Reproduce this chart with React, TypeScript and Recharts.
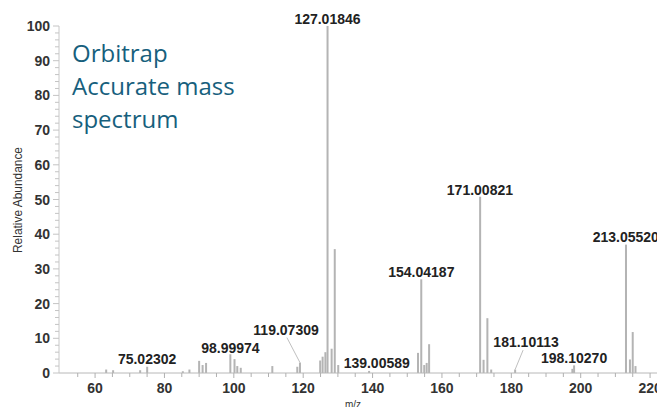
import React from 'react';
import { ComposedChart, Bar, Scatter, XAxis, YAxis, ReferenceLine, Label } from 'recharts';

// spectrum peaks
const peakMz = [
  63.2, 65.2, 73.0, 75.02, 85.3, 87.2,
  90.0, 91.0, 92.0,
  99.0, 100.2, 101.0, 102.0,
  111.1, 118.3, 119.07,
  124.9, 125.6, 126.4, 127.02, 128.2, 129.1, 130.1,
  139.0,
  153.1, 154.04, 154.9, 155.6, 156.3,
  171.01, 172.0, 173.1, 174.2,
  181.1, 197.6, 198.1,
  213.06, 214.2, 215.0, 215.8,
];
const peakAbundance = [
  1.0, 0.8, 0.8, 1.8, 0.5, 1.0,
  3.5, 2.3, 2.9,
  5.4, 4.0, 2.0, 1.5,
  2.0, 1.8, 3.0,
  3.6, 4.7, 6.0, 100, 7.0, 35.7, 2.3,
  0.6,
  5.8, 27, 2.3, 2.9, 8.3,
  50.8, 3.8, 15.8, 1.0,
  1.0, 1.2, 2.2,
  37, 3.9, 11.8, 2.0,
];

// peak annotations: text and where it sits (m/z, abundance)
const labelText = ['75.02302', '98.99974', '119.07309', '127.01846', '139.00589', '154.04187', '171.00821', '181.10113', '198.10270', '213.05520'];
const labelAtMz = [75.0, 99.03, 115.06, 127.0, 141.2, 154.06, 170.95, 184.25, 198.1, 213.0];
const labelAtAbundance = [2.0, 5.3, 10.4, 100, 0.9, 27.1, 50.7, 6.9, 2.3, 37.2];

// leader lines from offset labels to their peaks
const leaderFrom = [{ x: 115.3, y: 10.2 }, { x: 183.4, y: 6.6 }];
const leaderTo = [{ x: 119.07, y: 3.0 }, { x: 181.1, y: 1.0 }];

const xTicks = [55, 60, 65, 70, 75, 80, 85, 90, 95, 100, 105, 110, 115, 120, 125, 130, 135, 140, 145, 150, 155, 160, 165, 170, 175, 180, 185, 190, 195, 200, 205, 210, 215, 220];
const xLabels = [60, 80, 100, 120, 140, 160, 180, 200, 220];
const yTicks = [0, 2, 4, 6, 8, 10, 12, 14, 16, 18, 20, 22, 24, 26, 28, 30, 32, 34, 36, 38, 40, 42, 44, 46, 48, 50, 52, 54, 56, 58, 60, 62, 64, 66, 68, 70, 72, 74, 76, 78, 80, 82, 84, 86, 88, 90, 92, 94, 96, 98, 100];
const yLabels = [0, 10, 20, 30, 40, 50, 60, 70, 80, 90, 100];

const peaks = peakMz.map((mz, i) => ({ mz, abundance: peakAbundance[i] }));
const labels = labelText.map((text, i) => ({ mz: labelAtMz[i], abundance: labelAtAbundance[i], text }));

const FONT = '"Liberation Sans", Arial, sans-serif';

function XTick(props: any) {
  const { x, y, payload } = props;
  const major = xLabels.includes(payload.value);
  return (
    <g>
      <line x1={x} x2={x} y1={y} y2={y + (major ? 5 : 4)} stroke="#b0b0b0" />
      {major && (
        <text x={x} y={y + 20} textAnchor="middle" fontFamily={FONT} fontSize={14} fontWeight="bold" fill="#333">
          {payload.value}
        </text>
      )}
    </g>
  );
}

function YTick(props: any) {
  const { x, y, payload } = props;
  const major = yLabels.includes(payload.value);
  return (
    <g>
      <line x1={x} x2={x - (major ? 6 : 4)} y1={y} y2={y} stroke="#c4c4c4" />
      {major && (
        <text x={x - 9} y={y + 5} textAnchor="end" fontFamily={FONT} fontSize={14} fontWeight="bold" fill="#333">
          {payload.value}
        </text>
      )}
    </g>
  );
}

// draw each peak as a 2px stick centred on its m/z
function Stick(props: any) {
  const { x, y, width, height } = props;
  if (height == null || height <= 0) return null;
  const cx = x + width / 2;
  return <rect x={cx - 1} y={y} width={2} height={height} fill="#b4b4b4" />;
}

function PeakLabel(props: any) {
  const { cx, cy, payload } = props;
  return (
    <text x={cx} y={cy - 2} textAnchor="middle" fontFamily={FONT} fontSize={14} fontWeight="bold" fill="#222">
      {payload.text}
    </text>
  );
}

export default function App() {
  return (
    <div style={{ position: 'absolute', left: 0, top: 0, width: 657, height: 407, background: '#fff' }}>
      <ComposedChart width={657} height={407} data={peaks} margin={{ top: 26, right: 0, bottom: 0, left: 0 }}>
        <XAxis
          dataKey="mz"
          type="number"
          domain={[49.6, 222]}
          allowDataOverflow
          ticks={xTicks}
          interval={0}
          height={34}
          tickSize={0}
          tickMargin={0}
          tickLine={false}
          tick={XTick}
          axisLine={{ stroke: '#b8b8b8' }}
        >
          <Label
            content={() => (
              <text x={353} y={408} textAnchor="middle" fontFamily={FONT} fontSize={10} fill="#333">
                m/z
              </text>
            )}
          />
        </XAxis>
        <YAxis
          type="number"
          domain={[0, 100]}
          ticks={yTicks}
          interval={0}
          width={59}
          tickSize={0}
          tickMargin={0}
          tickLine={false}
          tick={YTick}
          axisLine={{ stroke: '#c8c8c8' }}
        >
          <Label
            content={() => (
              <text
                x={22}
                y={200}
                transform="rotate(-90, 22, 200)"
                textAnchor="middle"
                fontFamily={FONT}
                fontSize={13}
                textLength={106}
                lengthAdjust="spacingAndGlyphs"
                fill="#333"
              >
                Relative Abundance
              </text>
            )}
          />
        </YAxis>
        {leaderFrom.map((p, i) => (
          <ReferenceLine key={i} segment={[p, leaderTo[i]]} stroke="#c0c0c0" strokeWidth={1} />
        ))}
        <Bar dataKey="abundance" barSize={2} shape={Stick} isAnimationActive={false} />
        <Scatter data={labels} dataKey="abundance" shape={PeakLabel} isAnimationActive={false} />
      </ComposedChart>
      <div
        style={{
          position: 'absolute',
          left: 72,
          top: 36,
          fontFamily: '"Open Sans", sans-serif',
          fontSize: 24,
          lineHeight: '33px',
          color: '#175f7d',
          whiteSpace: 'nowrap',
        }}
      >
        Orbitrap
        <br />
        Accurate mass
        <br />
        spectrum
      </div>
    </div>
  );
}
